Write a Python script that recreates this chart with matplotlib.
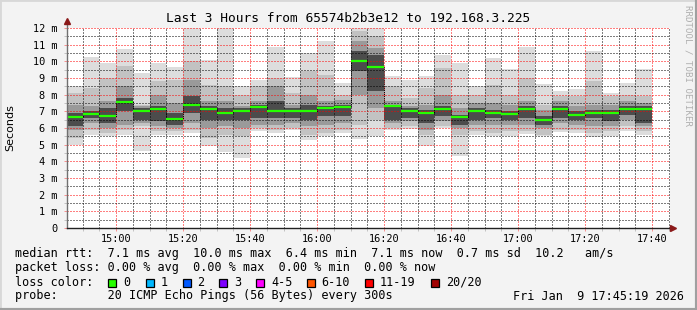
import matplotlib
matplotlib.use("Agg")
import matplotlib.pyplot as plt
from matplotlib.patches import Rectangle
from matplotlib.lines import Line2D

# 5 minute steps (start of each step)
steps = ["14:45", "14:50", "14:55", "15:00", "15:05", "15:10", "15:15",
         "15:20", "15:25", "15:30", "15:35", "15:40", "15:45", "15:50",
         "15:55", "16:00", "16:05", "16:10", "16:15", "16:20", "16:25",
         "16:30", "16:35", "16:40", "16:45", "16:50", "16:55", "17:00",
         "17:05", "17:10", "17:15", "17:20", "17:25", "17:30", "17:35"]

# smoke envelope in ms (outer -> inner) and median
rtt_min = [5.0, 5.6, 5.5, 5.6, 4.63, 5.6, 5.6, 5.7, 4.95, 4.55, 4.23, 5.8,
           5.7, 5.9, 5.3, 5.5, 5.7, 5.35, 5.53, 5.86, 5.94, 4.9, 6.0, 4.33,
           5.56, 5.5, 5.53, 5.65, 5.5, 5.74, 5.7, 5.45, 5.5, 5.84, 5.6]
rtt_lo2 = [5.4, 5.9, 5.7, 5.9, 6.1, 5.8, 5.8, 5.9, 5.4, 5.6, 5.5, 6.0,
           5.9, 6.0, 5.6, 5.7, 5.9, 6.2, 6.5, 6.0, 6.1, 5.6, 6.1, 5.6,
           5.8, 5.7, 5.8, 5.8, 5.6, 5.9, 5.9, 5.7, 5.8, 6.1, 5.8]
rtt_lo3 = [5.9, 6.3, 6.0, 6.2, 6.3, 6.1, 6.0, 6.3, 6.0, 6.1, 6.0, 6.2,
           6.2, 6.3, 6.1, 6.2, 6.3, 8.0, 7.2, 6.3, 6.4, 5.9, 6.4, 6.0,
           6.2, 6.2, 6.2, 6.2, 6.0, 6.3, 6.2, 6.1, 6.1, 6.5, 6.1]
rtt_lo4 = [6.1, 6.6, 6.3, 7.0, 6.5, 6.4, 6.2, 6.9, 6.5, 6.5, 6.5, 6.6,
           6.6, 6.6, 6.5, 6.7, 6.7, 9.4, 8.2, 6.5, 6.6, 6.3, 6.7, 6.2,
           6.5, 6.6, 6.5, 6.6, 6.2, 6.6, 6.5, 6.6, 6.4, 6.8, 6.3]
rtt_median = [6.64, 6.82, 6.70, 7.54, 7.04, 7.12, 6.52, 7.36, 7.12, 6.88,
              7.0, 7.26, 7.04, 7.04, 7.04, 7.18, 7.26, 10.0, 9.68, 7.3,
              7.0, 6.92, 7.12, 6.64, 7.0, 6.92, 6.82, 7.12, 6.46, 7.12,
              6.8, 6.92, 6.92, 7.12, 7.12]
rtt_hi4 = [6.9, 7.0, 7.2, 7.8, 7.2, 7.3, 6.9, 7.9, 7.3, 7.2, 7.2, 7.4,
           7.6, 7.2, 7.4, 7.3, 7.4, 10.6, 10.4, 7.4, 7.2, 7.1, 7.3, 6.8,
           7.2, 7.1, 7.0, 7.3, 6.7, 7.3, 7.0, 7.1, 7.1, 7.3, 7.3]
rtt_hi3 = [7.4, 7.3, 7.6, 8.5, 7.3, 8.0, 7.5, 8.9, 7.6, 7.6, 7.3, 7.6,
           8.5, 7.4, 8.0, 7.6, 7.7, 11.2, 10.8, 7.6, 7.3, 7.4, 8.0, 7.2,
           7.5, 7.5, 7.4, 7.6, 7.1, 7.6, 7.3, 7.4, 7.4, 7.6, 7.5]
rtt_hi2 = [8.1, 8.4, 9.0, 9.7, 7.4, 8.8, 8.9, 10.0, 8.6, 8.5, 8.0, 8.5,
           9.0, 8.1, 9.4, 9.2, 8.0, 11.8, 11.5, 8.5, 7.8, 8.4, 9.6, 8.0,
           8.0, 8.6, 8.0, 9.0, 7.4, 7.9, 7.9, 8.8, 7.9, 8.0, 7.9]
rtt_max = [8.54, 10.26, 9.92, 10.76, 9.32, 9.92, 9.68, 12.5, 10.1, 12.5,
           8.54, 8.9, 10.84, 9.04, 10.48, 11.2, 8.72, 12.5, 12.5, 9.12,
           8.9, 9.12, 10.4, 9.92, 8.54, 10.18, 9.52, 10.88, 8.66, 8.24,
           8.36, 10.6, 8.12, 8.72, 9.52]

tick_labels = ["15:00", "15:20", "15:40", "16:00", "16:20", "16:40",
               "17:00", "17:20", "17:40"]
loss_labels = ["0", "1", "2", "3", "4-5", "6-10", "11-19", "20/20"]
loss_colors = ["#26ff00", "#00b8ff", "#0059ff", "#7e00ff", "#ff00ff",
               "#ff5500", "#ff0000", "#a10000"]

def to_min(s):
    h, m = s.split(":")
    return (int(h) - 14) * 60 + int(m)

W, H = 697, 310
MONO = "DejaVu Sans Mono"
fig = plt.figure(figsize=(W / 100, H / 100), dpi=100, facecolor="#f3f3f3")
ax = fig.add_axes([67 / W, 82 / H, 603 / W, 200 / H])
ax.set_facecolor("white")
x0, x1 = 45 + 19 / 60, 225 + 19 / 60
ax.set_xlim(x0, x1)
ax.set_ylim(0, 12)

shades = ["#dddddd", "#c2c2c2", "#9a9a9a", "#4c4c4c"]
starts = [to_min(s) for s in steps]
for i, t in enumerate(starts):
    layers = [(rtt_min[i], rtt_max[i]), (rtt_lo2[i], rtt_hi2[i]),
              (rtt_lo3[i], rtt_hi3[i]), (rtt_lo4[i], rtt_hi4[i])]
    for (lo, hi), c in zip(layers, shades):
        ax.bar(t, hi - lo, bottom=lo, width=5, align="edge", color=c,
               linewidth=0, zorder=1)

# median: thin black steps, green segments on top
sx = starts + [starts[-1] + 5]
sy = rtt_median + [rtt_median[-1]]
ax.step(sx, sy, where="post", color="black", lw=0.7, ls=(0, (1, 1)),
        zorder=3)
ax.hlines(rtt_median, starts, [t + 5 for t in starts], color="#26ff00",
          lw=1.6, zorder=4)

# grid
ax.set_xticks([to_min(s) for s in tick_labels])
ax.set_xticklabels(tick_labels)
ax.set_xticks(range(50, 226, 5), minor=True)
ax.set_yticks(range(0, 13))
ax.set_yticklabels(["0"] + ["%d m" % v for v in range(1, 13)])
ax.set_yticks([v + 0.5 for v in range(12)], minor=True)
ax.set_axisbelow(False)
ax.grid(which="major", color=(1, 0, 0, 0.26), lw=0.72, ls=(0, (1, 2)))
ax.grid(which="minor", color=(0, 0, 0, 0.15), lw=0.72, ls=(0, (1, 2)))
ax.tick_params(which="both", length=2, width=0.72, labelsize=7.4,
               labelcolor="black")
ax.tick_params(axis="x", which="major", color=(1, 0, 0, 0.4), pad=2)
ax.tick_params(axis="y", which="major", color=(1, 0, 0, 0.4), pad=5)
ax.tick_params(which="minor", color=(0, 0, 0, 0.2))
for lab in ax.get_xticklabels() + ax.get_yticklabels():
    lab.set_family(MONO)
for sp in ax.spines.values():
    sp.set_visible(False)

# axes with arrows
ax.add_line(Line2D([x0, x0], [0, 12.45], color="#707070", lw=1,
                   clip_on=False, zorder=5))
ax.add_line(Line2D([x0, x1 + 0.5], [0, 0], color="#202020", lw=1,
                   clip_on=False, zorder=5))
ax.plot([x0], [12.45], marker="^", color="#8b1a1a", ms=4, clip_on=False,
        zorder=6)
ax.plot([x1 + 0.9], [0], marker=">", color="#8b1a1a", ms=4, clip_on=False,
        zorder=6)

fig.text(348 / W, 1 - 19 / H,
         "Last 3 Hours from 65574b2b3e12 to 192.168.3.225",
         ha="center", va="center", family=MONO, fontsize=9.3)
fig.text(10 / W, 1 - 128 / H, "Seconds", rotation=90, ha="center",
         va="center", family="DejaVu Sans", fontsize=8)
fig.text(688 / W, 1 - 5 / H, "RRDTOOL / TOBI OETIKER", rotation=270,
         ha="center", va="top", family=MONO, fontsize=6.6, color="#b0b0b0")

fs = 8.5
lx = 15 / W
fig.text(lx, 1 - 254 / H,
         "median rtt:  7.1 ms avg  10.0 ms max  6.4 ms min  7.1 ms now"
         "  0.7 ms sd  10.2   am/s", va="center", family=MONO, fontsize=fs)
fig.text(lx, 1 - 268 / H,
         "packet loss: 0.00 % avg  0.00 % max  0.00 % min  0.00 % now",
         va="center", family=MONO, fontsize=fs)
fig.text(lx, 1 - 282 / H, "loss color:", va="center", family=MONO,
         fontsize=fs)
box_x = [108, 145.5, 182.5, 219, 256, 306.5, 365, 431]
for bx, lab, col in zip(box_x, loss_labels, loss_colors):
    fig.patches.append(Rectangle((bx / W, 1 - 287 / H), 8 / W, 8 / H,
                                 transform=fig.transFigure, facecolor=col,
                                 edgecolor="black", lw=0.9))
    fig.text((bx + 15) / W, 1 - 282 / H, lab, va="center", family=MONO,
             fontsize=fs)
fig.text(lx, 1 - 296 / H,
         "probe:       20 ICMP Echo Pings (56 Bytes) every 300s",
         va="center", family=MONO, fontsize=fs)
fig.text(513 / W, 1 - 296 / H, "Fri Jan  9 17:45:19 2026", va="center",
         family=MONO, fontsize=fs)

# 3d-ish frame
fig.add_artist(Line2D([0, 1], [1, 1], color="#d8d8d8", lw=2,
                      transform=fig.transFigure))
fig.add_artist(Line2D([0, 0], [0, 1], color="#d8d8d8", lw=2,
                      transform=fig.transFigure))
fig.add_artist(Line2D([0, 1], [0, 0], color="#a0a0a0", lw=3,
                      transform=fig.transFigure))
fig.add_artist(Line2D([1, 1], [0, 1], color="#a0a0a0", lw=3,
                      transform=fig.transFigure))

fig.savefig("out.png", dpi=100, facecolor=fig.get_facecolor())
